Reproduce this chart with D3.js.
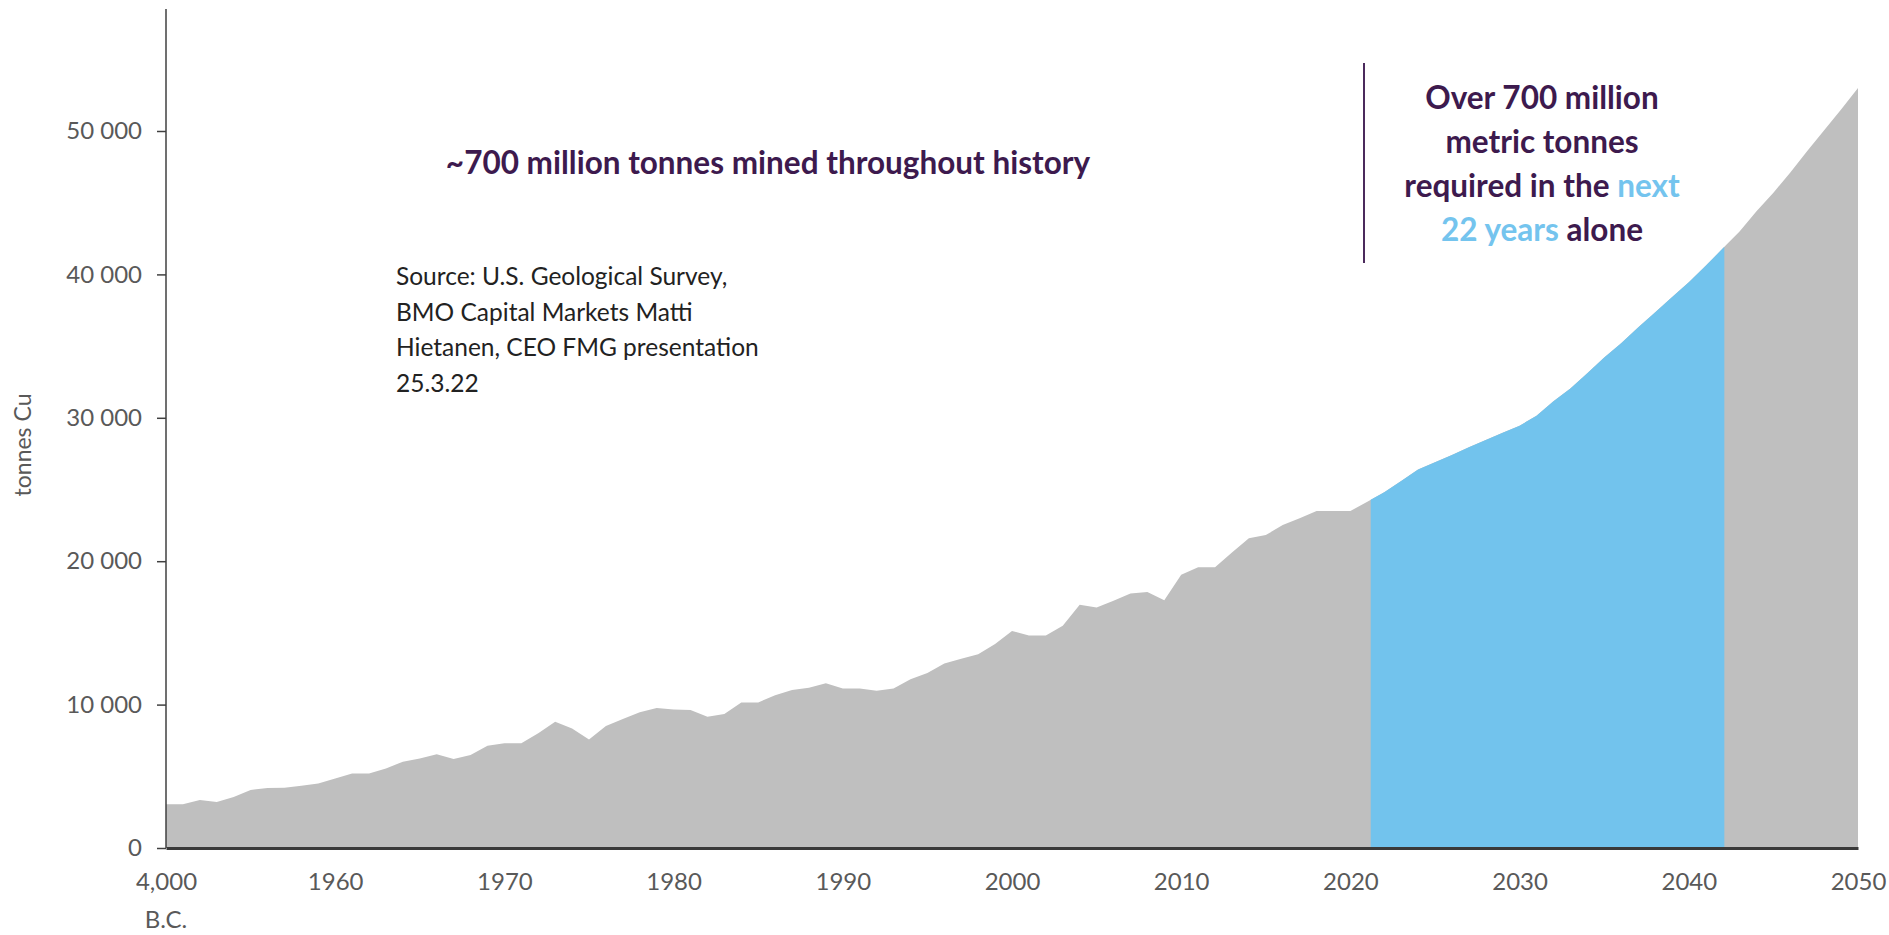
<!DOCTYPE html>
<html>
<head>
<meta charset="utf-8">
<script src="https://cdn.jsdelivr.net/npm/d3@7"></script>
<style>
  body { margin: 0; background: #fff; }
  text { font-family: Lato, "Open Sans", sans-serif; }
</style>
</head>
<body>
<div class="svg-container"></div>
<script>
//required dimensions
var margin = { top:9, right:31, bottom:87, left:166 };
const width = 1889;
const height = 935;

//years on the category axis (first one is shown as 4,000 B.C.)
const years = [1950,1951,1952,1953,1954,1955,1956,1957,1958,1959,
               1960,1961,1962,1963,1964,1965,1966,1967,1968,1969,
               1970,1971,1972,1973,1974,1975,1976,1977,1978,1979,
               1980,1981,1982,1983,1984,1985,1986,1987,1988,1989,
               1990,1991,1992,1993,1994,1995,1996,1997,1998,1999,
               2000,2001,2002,2003,2004,2005,2006,2007,2008,2009,
               2010,2011,2012,2013,2014,2015,2016,2017,2018,2019,
               2020,2021,2022,2023,2024,2025,2026,2027,2028,2029,
               2030,2031,2032,2033,2034,2035,2036,2037,2038,2039,
               2040,2041,2042,2043,2044,2045,2046,2047,2048,2049,2050];

//tonnes Cu per year
const tonnes = [3050,3050,3350,3200,3550,4050,4180,4200,4340,4500,
                4850,5200,5200,5550,6020,6250,6530,6200,6480,7130,
                7300,7300,8000,8800,8340,7560,8500,8990,9460,9770,
                9650,9630,9150,9340,10150,10150,10650,11010,11180,11490,
                11130,11130,10960,11130,11770,12200,12860,13200,13510,14220,
                15130,14820,14820,15490,16960,16770,17240,17740,17860,17270,
                19050,19580,19580,20600,21600,21820,22520,22990,23500,23500,
                23500,24150,24800,25600,26400,26900,27400,27950,28450,28950,
                29450,30150,31150,32050,33100,34200,35200,36300,37350,38400,
                39450,40600,41800,43000,44400,45700,47100,48600,50050,51500,53000];

//highlighted period ("next 22 years")
const future_range = [2021.2, 2042.1];

//tick labels
const x_ticks = [1950,1960,1970,1980,1990,2000,2010,2020,2030,2040,2050];
const x_labels = ["4,000","1960","1970","1980","1990","2000","2010","2020","2030","2040","2050"];
const y_ticks = [0,10000,20000,30000,40000,50000];
const y_labels = ["0","10 000","20 000","30 000","40 000","50 000"];

const source_lines = ["Source: U.S. Geological Survey,",
                      "BMO Capital Markets Matti",
                      "Hietanen, CEO FMG presentation",
                      "25.3.22"];

const data = years.map((yr, i) => ({ year: yr, value: tonnes[i] }));

//svg container
const svg = d3.select(".svg-container")
                .append('svg')
                .attr('width', width)
                .attr('height', height)

//scales
const xScale = d3.scaleLinear()
                .domain([years[0], years[years.length-1]])
                .range([margin.left, width-margin.right])

const yScale = d3.scaleLinear()
                .domain([0, 50000])
                .range([height-margin.bottom, 131])

//gray area for the whole series
const area = d3.area()
                .x(d => xScale(d.year))
                .y0(yScale(0))
                .y1(d => yScale(d.value))

svg.append('path')
    .datum(data)
    .attr('d', area)
    .attr('fill', '#bfbfbf')

//blue part for the next 22 years
const valueAt = yr => {
    let i = d3.bisector(d => d.year).right(data, yr) - 1;
    let a = data[i], b = data[i+1];
    return a.value + (b.value - a.value)*(yr - a.year);
}
let future = [{year: future_range[0], value: valueAt(future_range[0])}]
    .concat(data.filter(d => d.year > future_range[0] && d.year < future_range[1]))
    .concat([{year: future_range[1], value: valueAt(future_range[1])}]);

svg.append('path')
    .datum(future)
    .attr('d', area)
    .attr('fill', '#72c3ed')

//y axis
const yAxis = d3.axisLeft(yScale)
                .tickValues(y_ticks)
                .tickFormat((d,i) => y_labels[i])
                .tickSize(9)
                .tickPadding(15);

svg.append('g')
    .attr('class', 'y-axis')
    .attr('transform', `translate(${margin.left}, 0)`)
    .call(yAxis)
    .call(g => g.select('.domain').remove())
    .call(g => g.selectAll('.tick line').attr('stroke', '#404040').attr('stroke-width', 1.5))
    .call(g => g.selectAll('.tick text').attr('fill', '#595959').attr('font-size', 24))

svg.append('line')
    .attr('x1', margin.left).attr('x2', margin.left)
    .attr('y1', margin.top).attr('y2', yScale(0))
    .attr('stroke', '#404040')
    .attr('stroke-width', 1.5)

//x axis
const xAxis = d3.axisBottom(xScale)
                .tickValues(x_ticks)
                .tickFormat((d,i) => x_labels[i])
                .tickSize(0)
                .tickPadding(25);

svg.append('g')
    .attr('class', 'x-axis')
    .attr('transform', `translate(0, ${yScale(0)})`)
    .call(xAxis)
    .call(g => g.select('.domain').attr('stroke', '#3a3a3a').attr('stroke-width', 3))
    .call(g => g.selectAll('.tick text').attr('fill', '#595959').attr('font-size', 24))

svg.append('text')
    .attr('x', xScale(years[0]))
    .attr('y', 928)
    .attr('text-anchor', 'middle')
    .attr('fill', '#595959')
    .attr('font-size', 24)
    .text('B.C.')

//y axis title
svg.append('text')
    .attr('transform', 'translate(31, 445) rotate(-90)')
    .attr('text-anchor', 'middle')
    .attr('fill', '#595959')
    .attr('font-size', 23)
    .text('tonnes Cu')

//chart title
svg.append('text')
    .attr('x', 768)
    .attr('y', 174)
    .attr('text-anchor', 'middle')
    .attr('fill', '#3d1a4e')
    .attr('font-size', 31.5)
    .attr('font-weight', 'bold')
    .text('~700 million tonnes mined throughout history')

//source note
svg.selectAll('.source-text')
    .data(source_lines)
    .join('text')
    .attr('class', 'source-text')
    .attr('x', 396)
    .attr('y', (d,i) => 285 + i*35.5)
    .attr('fill', '#222')
    .attr('font-size', 24.5)
    .text(d => d)

//right annotation
svg.append('line')
    .attr('x1', 1364).attr('x2', 1364)
    .attr('y1', 63).attr('y2', 263)
    .attr('stroke', '#4b2a5c')
    .attr('stroke-width', 2)

const note = [
    [{t: 'Over 700 million', c: '#3d1a4e'}],
    [{t: 'metric tonnes', c: '#3d1a4e'}],
    [{t: 'required in the ', c: '#3d1a4e'}, {t: 'next', c: '#74c4ee'}],
    [{t: '22 years', c: '#74c4ee'}, {t: ' alone', c: '#3d1a4e'}]
];

svg.selectAll('.note-text')
    .data(note)
    .join('text')
    .attr('class', 'note-text')
    .attr('x', 1542)
    .attr('y', (d,i) => 109 + i*44)
    .attr('text-anchor', 'middle')
    .attr('font-size', 31.5)
    .attr('font-weight', 'bold')
    .style('white-space', 'pre')
    .selectAll('tspan')
    .data(d => d)
    .join('tspan')
    .attr('fill', d => d.c)
    .text(d => d.t)
</script>
</body>
</html>
